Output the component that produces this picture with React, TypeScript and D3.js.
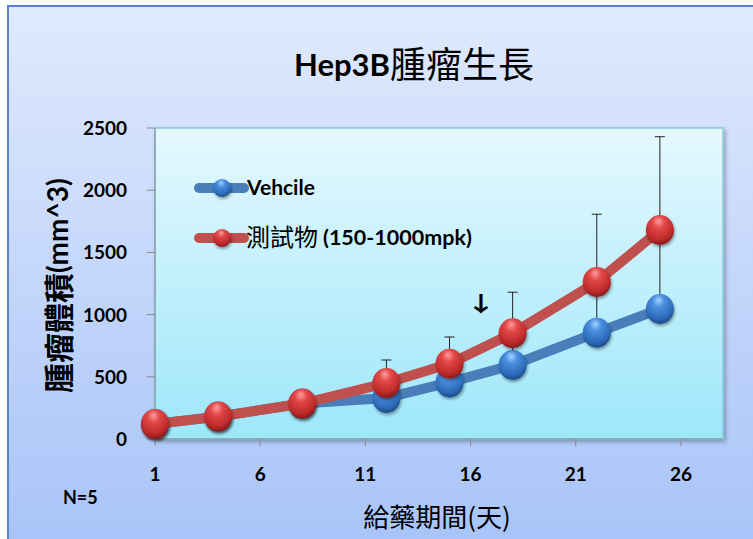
import React from "react";
import * as d3 from "d3";

const days = [1, 4, 8, 12, 15, 18, 22, 25];
const vehicleMean = [120, 180, 285, 330, 455, 595, 855, 1045];
const vehicleSD = [10, 15, 30, 100, 130, 240, 400, 620];
const testMean = [120, 180, 285, 450, 605, 850, 1262, 1680];
const testSD = [10, 15, 30, 185, 215, 330, 545, 750];
const xTicks = [1, 6, 11, 16, 21, 26];
const yTicks = [0, 500, 1000, 1500, 2000, 2500];
const seriesNames = ["Vehcile", "測試物", "(150-1000mpk)"];
const title = ["Hep3B", "腫瘤生長"];
const xTitle = "給藥期間(天)";
const yTitle = ["腫瘤體積", "(mm^3)"];
const note = "N=5";
const arrowDay = 16.5;
const arrowValue = 1030;

const W = 753;
const H = 539;
const plot = { left: 155, right: 723, top: 128, bottom: 439 };
const latin = "Lato, 'Open Sans', 'Noto Sans', sans-serif";
const cjk = "'Noto Sans CJK TC', 'Noto Sans CJK SC', sans-serif";

export default function App() {
  const x = d3.scaleLinear().domain([1, 28]).range([plot.left, plot.right]);
  const y = d3.scaleLinear().domain([0, 2500]).range([plot.bottom, plot.top]);
  const line = d3
    .line<[number, number]>()
    .x((d) => x(d[0]))
    .y((d) => y(d[1]));

  const series = [
    { name: seriesNames[0], mean: vehicleMean, sd: vehicleSD, line: "#4a7ebb", grad: "gBlue" },
    { name: seriesNames[1] + " " + seriesNames[2], mean: testMean, sd: testSD, line: "#c0504d", grad: "gRed" },
  ];
  const r = 14;
  const ax = x(arrowDay);
  const ay = y(arrowValue);

  return (
    <svg width={W} height={H} style={{ position: "absolute", left: 0, top: 0 }}>
      <defs>
        <linearGradient id="outerBg" x1="0" y1="0" x2="0" y2="1">
          <stop offset="0" stopColor="#e0eafd" />
          <stop offset="1" stopColor="#a7c3f8" />
        </linearGradient>
        <linearGradient id="plotBg" x1="0" y1="0" x2="0" y2="1">
          <stop offset="0" stopColor="#e5f8fe" />
          <stop offset="1" stopColor="#9de7fa" />
        </linearGradient>
        <radialGradient id="gRed" cx="0.45" cy="0.32" r="0.72" fx="0.45" fy="0.2">
          <stop offset="0" stopColor="#ff9c9c" />
          <stop offset="0.3" stopColor="#e24848" />
          <stop offset="0.75" stopColor="#bd2a2a" />
          <stop offset="1" stopColor="#781616" />
        </radialGradient>
        <radialGradient id="gBlue" cx="0.45" cy="0.32" r="0.72" fx="0.45" fy="0.2">
          <stop offset="0" stopColor="#a2d2ff" />
          <stop offset="0.3" stopColor="#4a8ee0" />
          <stop offset="0.75" stopColor="#2c6ab8" />
          <stop offset="1" stopColor="#18427c" />
        </radialGradient>
        <filter id="shadow" x="-50%" y="-50%" width="200%" height="200%">
          <feGaussianBlur in="SourceAlpha" stdDeviation="1.5" />
          <feOffset dx="1" dy="2" result="b" />
          <feComponentTransfer>
            <feFuncA type="linear" slope="0.4" />
          </feComponentTransfer>
          <feMerge>
            <feMergeNode />
            <feMergeNode in="SourceGraphic" />
          </feMerge>
        </filter>
        <filter id="plotShadow" x="-5%" y="-5%" width="110%" height="110%">
          <feGaussianBlur in="SourceAlpha" stdDeviation="2" />
          <feOffset dx="2" dy="2" />
          <feComponentTransfer>
            <feFuncA type="linear" slope="0.3" />
          </feComponentTransfer>
          <feMerge>
            <feMergeNode />
            <feMergeNode in="SourceGraphic" />
          </feMerge>
        </filter>
      </defs>

      <rect x={0} y={0} width={W} height={H} fill="#ffffff" />
      <rect x={8} y={6} width={W + 10} height={H + 10} fill="url(#outerBg)" stroke="#5585cc" strokeWidth={2} />

      {/* Title */}
      <text x={390} y={76} textAnchor="end" fontSize={31} fontFamily={latin} fontWeight="bold" fill="#000">
        {title[0]}
      </text>
      <text x={390} y={78} textAnchor="start" fontSize={36} fontFamily={cjk} fill="#000">
        {title[1]}
      </text>

      {/* Plot area */}
      <rect
        x={plot.left}
        y={plot.top}
        width={plot.right - plot.left}
        height={plot.bottom - plot.top}
        fill="url(#plotBg)"
        stroke="#86cde0"
        strokeWidth={1.5}
        filter="url(#plotShadow)"
      />
      {/* Axes */}
      <line x1={plot.left} x2={plot.left} y1={plot.top} y2={plot.bottom} stroke="#8a8a8a" strokeWidth={1} />
      <line x1={plot.left} x2={plot.right} y1={plot.bottom} y2={plot.bottom} stroke="#8a8a8a" strokeWidth={1} />
      {yTicks.map((t) => (
        <g key={"y" + t}>
          <line x1={plot.left - 8} x2={plot.left} y1={y(t)} y2={y(t)} stroke="#8a8a8a" />
          <text x={127} y={y(t) + 7} textAnchor="end" fontFamily={latin} fontWeight="bold" fontSize={19} fill="#000">
            {t}
          </text>
        </g>
      ))}
      {xTicks.map((t) => (
        <g key={"x" + t}>
          <line x1={x(t)} x2={x(t)} y1={plot.bottom} y2={plot.bottom + 7} stroke="#8a8a8a" />
          <text x={x(t)} y={481} textAnchor="middle" fontFamily={latin} fontWeight="bold" fontSize={19} fill="#000">
            {t}
          </text>
        </g>
      ))}

      {/* Series */}
      {series.map((s) => {
        const pts = days.map((d, i) => [d, s.mean[i]] as [number, number]);
        return (
          <g key={s.name}>
            <path d={line(pts) || ""} fill="none" stroke={s.line} strokeWidth={10} strokeLinejoin="round" />
            {days.map((d, i) => (
              <g key={"e" + d}>
                <line x1={x(d)} x2={x(d)} y1={y(s.mean[i])} y2={y(s.mean[i] + s.sd[i])} stroke="#222" strokeWidth={1} />
                <line x1={x(d) - 5} x2={x(d) + 5} y1={y(s.mean[i] + s.sd[i])} y2={y(s.mean[i] + s.sd[i])} stroke="#222" strokeWidth={1} />
              </g>
            ))}
            {days.map((d, i) => (
              <ellipse
                key={"m" + d}
                cx={x(d)}
                cy={y(s.mean[i])}
                rx={r}
                ry={r + 1}
                fill={`url(#${s.grad})`}
                filter="url(#shadow)"
              />
            ))}
          </g>
        );
      })}

      {/* Arrow */}
      <g transform={`translate(${ax}, ${ay}) scale(1.45, 1)`}>
        <text x={0} y={0} textAnchor="middle" fontFamily={cjk} fontWeight="bold" fontSize={21} fill="#000">
          ↓
        </text>
      </g>

      {/* Legend */}
      {series.map((s, i) => {
        const ly = 188 + i * 50;
        return (
          <g key={"lg" + i}>
            <line x1={199} x2={244} y1={ly} y2={ly} stroke={s.line} strokeWidth={10} strokeLinecap="round" />
            <circle cx={222} cy={ly} r={9} fill={`url(#${s.grad})`} filter="url(#shadow)" />
            {i === 0 ? (
              <text x={247} y={ly + 7} fontFamily={latin} fontWeight="bold" fontSize={21} fill="#000">
                {seriesNames[0]}
              </text>
            ) : (
              <>
                <text x={246} y={ly + 8} fontFamily={cjk} fontSize={24} fill="#000">
                  {seriesNames[1]}
                </text>
                <text x={323} y={ly + 7} textAnchor="start" fontFamily={latin} fontWeight="bold" fontSize={21.5} fill="#000">
                  {seriesNames[2]}
                </text>
              </>
            )}
          </g>
        );
      })}

      {/* Axis titles */}
      <text x={437} y={527} textAnchor="middle" fontFamily={cjk} fontSize={26} fill="#000">
        {xTitle}
      </text>
      <g transform={`translate(70, 273) rotate(-90)`}>
        <text x={0} y={0} textAnchor="end" fontFamily={cjk} fontWeight="bold" fontSize={30} fill="#000">
          {yTitle[0]}
        </text>
        <text x={0} y={-2} textAnchor="start" fontFamily={latin} fontWeight="bold" fontSize={28} fill="#000">
          {yTitle[1]}
        </text>
      </g>
      <text x={63} y={504} fontFamily={latin} fontWeight="bold" fontSize={18} fill="#000">
        {note}
      </text>
    </svg>
  );
}
